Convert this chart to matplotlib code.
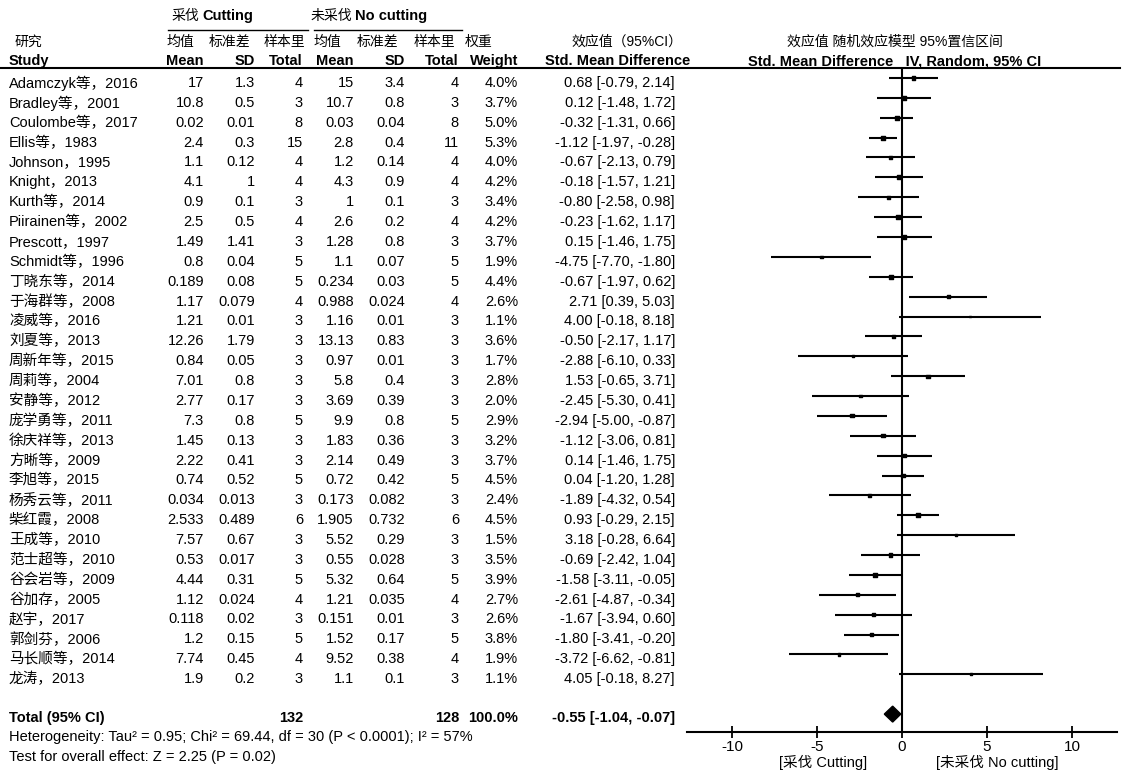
import matplotlib
matplotlib.use('Agg')
import numpy as np
import matplotlib.pyplot as plt

plt.rcParams['font.family'] = ['Liberation Sans', 'Noto Sans CJK SC', 'DejaVu Sans']

# ---- DATA ----
studies = ['Adamczyk等，2016', 'Bradley等，2001', 'Coulombe等，2017', 'Ellis等，1983',
           'Johnson，1995', 'Knight，2013', 'Kurth等，2014', 'Piirainen等，2002',
           'Prescott，1997', 'Schmidt等，1996', '丁晓东等，2014', '于海群等，2008',
           '凌威等，2016', '刘夏等，2013', '周新年等，2015', '周莉等，2004',
           '安静等，2012', '庞学勇等，2011', '徐庆祥等，2013', '方晰等，2009',
           '李旭等，2015', '杨秀云等，2011', '柴红霞，2008', '王成等，2010',
           '范士超等，2010', '谷会岩等，2009', '谷加存，2005', '赵宇，2017',
           '郭剑芬，2006', '马长顺等，2014', '龙涛，2013']
cut_mean = [17, 10.8, 0.02, 2.4, 1.1, 4.1, 0.9, 2.5, 1.49, 0.8, 0.189, 1.17, 1.21, 12.26, 0.84,
            7.01, 2.77, 7.3, 1.45, 2.22, 0.74, 0.034, 2.533, 7.57, 0.53, 4.44, 1.12, 0.118, 1.2, 7.74, 1.9]
cut_sd = [1.3, 0.5, 0.01, 0.3, 0.12, 1, 0.1, 0.5, 1.41, 0.04, 0.08, 0.079, 0.01, 1.79, 0.05,
          0.8, 0.17, 0.8, 0.13, 0.41, 0.52, 0.013, 0.489, 0.67, 0.017, 0.31, 0.024, 0.02, 0.15, 0.45, 0.2]
cut_n = [4, 3, 8, 15, 4, 4, 3, 4, 3, 5, 5, 4, 3, 3, 3, 3, 3, 5, 3, 3, 5, 3, 6, 3, 3, 5, 4, 3, 5, 4, 3]
nc_mean = [15, 10.7, 0.03, 2.8, 1.2, 4.3, 1, 2.6, 1.28, 1.1, 0.234, 0.988, 1.16, 13.13, 0.97,
           5.8, 3.69, 9.9, 1.83, 2.14, 0.72, 0.173, 1.905, 5.52, 0.55, 5.32, 1.21, 0.151, 1.52, 9.52, 1.1]
nc_sd = [3.4, 0.8, 0.04, 0.4, 0.14, 0.9, 0.1, 0.2, 0.8, 0.07, 0.03, 0.024, 0.01, 0.83, 0.01,
         0.4, 0.39, 0.8, 0.36, 0.49, 0.42, 0.082, 0.732, 0.29, 0.028, 0.64, 0.035, 0.01, 0.17, 0.38, 0.1]
nc_n = [4, 3, 8, 11, 4, 4, 3, 4, 3, 5, 5, 4, 3, 3, 3, 3, 3, 5, 3, 3, 5, 3, 6, 3, 3, 5, 4, 3, 5, 4, 3]
weight = [4.0, 3.7, 5.0, 5.3, 4.0, 4.2, 3.4, 4.2, 3.7, 1.9, 4.4, 2.6, 1.1, 3.6, 1.7, 2.8,
          2.0, 2.9, 3.2, 3.7, 4.5, 2.4, 4.5, 1.5, 3.5, 3.9, 2.7, 2.6, 3.8, 1.9, 1.1]
smd = [0.68, 0.12, -0.32, -1.12, -0.67, -0.18, -0.80, -0.23, 0.15, -4.75, -0.67, 2.71, 4.00, -0.50,
       -2.88, 1.53, -2.45, -2.94, -1.12, 0.14, 0.04, -1.89, 0.93, 3.18, -0.69, -1.58, -2.61, -1.67,
       -1.80, -3.72, 4.05]
ci_lo = [-0.79, -1.48, -1.31, -1.97, -2.13, -1.57, -2.58, -1.62, -1.46, -7.70, -1.97, 0.39, -0.18,
         -2.17, -6.10, -0.65, -5.30, -5.00, -3.06, -1.46, -1.20, -4.32, -0.29, -0.28, -2.42, -3.11,
         -4.87, -3.94, -3.41, -6.62, -0.18]
ci_hi = [2.14, 1.72, 0.66, -0.28, 0.79, 1.21, 0.98, 1.17, 1.75, -1.80, 0.62, 5.03, 8.18, 1.17, 0.33,
         3.71, 0.41, -0.87, 0.81, 1.75, 1.28, 0.54, 2.15, 6.64, 1.04, -0.05, -0.34, 0.60, -0.20,
         -0.81, 8.27]
total_smd, total_lo, total_hi = -0.55, -1.04, -0.07
total_weight = 100.0
xticks = [-10, -5, 0, 5, 10]

# ---- LAYOUT (pixels) ----
W, H = 1122, 774
ROW0, ROWH = 78, 19.87
TOTAL_ROW = 32
FS = 10.5

fig = plt.figure(figsize=(W / 100, H / 100), dpi=100)
bg = fig.add_axes([0, 0, 1, 1])
bg.set_xlim(0, W)
bg.set_ylim(H, 0)
bg.axis('off')


def ty(i):
    return ROW0 + ROWH * i + 5


def put(x, y, s, ha='right', bold=False, size=FS):
    bg.text(x, y, s, ha=ha, va='center', fontsize=size,
            fontweight='bold' if bold else 'normal')


# group headers
put(199, 16, '采伐', size=10)
put(202, 16, 'Cutting', ha='left', bold=True)
put(352, 16, '未采伐', size=10)
put(355, 16, 'No cutting', ha='left', bold=True)
bg.plot([168, 308], [30, 30], color='black', lw=1)
bg.plot([314, 462], [30, 30], color='black', lw=1)

# column headers
put(15, 42, '研究', ha='left', size=10)
for x, s in zip([167, 209, 264, 314, 357, 414, 465],
                ['均值', '标准差', '样本里', '均值', '标准差', '样本里', '权重']):
    put(x, 42, s, ha='left', size=10)
put(9, 61, 'Study', ha='left', bold=True)
for x, s in zip([204, 255, 303, 354, 405, 459, 518],
                ['Mean', 'SD', 'Total', 'Mean', 'SD', 'Total', 'Weight']):
    put(x, 61, s, bold=True)
put(627, 42, '效应值（95%CI）', ha='center', size=10)
put(618, 61, 'Std. Mean Difference', ha='center', bold=True)
put(895, 42, '效应值 随机效应模型 95%置信区间', ha='center', size=10)
put(895, 61, 'Std. Mean Difference   IV, Random, 95% CI', ha='center', bold=True)
bg.plot([0, 1120], [68, 68], color='black', lw=1.5)

# study rows
for i, name in enumerate(studies):
    y = ty(i)
    put(9, y, name, ha='left')
    put(204, y, f'{cut_mean[i]:g}')
    put(255, y, f'{cut_sd[i]:g}')
    put(303, y, f'{cut_n[i]}')
    put(354, y, f'{nc_mean[i]:g}')
    put(405, y, f'{nc_sd[i]:g}')
    put(459, y, f'{nc_n[i]}')
    put(518, y, f'{weight[i]:.1f}%')
    put(675, y, f'{smd[i]:.2f} [{ci_lo[i]:.2f}, {ci_hi[i]:.2f}]')

# total row
yt = ty(TOTAL_ROW) - 0.5
put(9, yt, 'Total (95% CI)', ha='left', bold=True)
put(303, yt, f'{sum(cut_n)}', bold=True)
put(459, yt, f'{sum(nc_n)}', bold=True)
put(518, yt, f'{total_weight:.1f}%', bold=True)
put(675, yt, f'{total_smd:.2f} [{total_lo:.2f}, {total_hi:.2f}]', bold=True)
put(9, 737, 'Heterogeneity: Tau² = 0.95; Chi² = 69.44, df = 30 (P < 0.0001); I² = 57%', ha='left')
put(9, 757, 'Test for overall effect: Z = 2.25 (P = 0.02)', ha='left')
put(823, 762, '[采伐 Cutting]', ha='center')
put(997, 762, '[未采伐 No cutting]', ha='center')

# ---- FOREST ----
ax = fig.add_axes([687 / W, 1 - 732 / H, (1117 - 687) / W, (732 - 68) / H])
ax.patch.set_alpha(0)
ax.set_xlim(-12.65, 12.65)
ax.set_ylim(32.9, -0.5)
for s in ['top', 'left', 'right']:
    ax.spines[s].set_visible(False)
ax.spines['bottom'].set_linewidth(1.5)
ax.set_yticks([])
ax.set_xticks(xticks)
ax.set_xticklabels([str(t) for t in xticks])
ax.tick_params(axis='x', direction='inout', length=9, width=1.3, labelsize=11, pad=1)
ax.axvline(0, color='black', lw=1.5)

rows = np.arange(len(studies))
for i in rows:
    ax.plot([ci_lo[i], ci_hi[i]], [i, i], color='black', lw=1.5, solid_capstyle='butt')
ax.scatter(smd, rows, marker='s', s=(1.3 * np.sqrt(weight)) ** 2, color='black', zorder=3)

dh = 0.4
ax.fill([total_lo, total_smd, total_hi, total_smd],
        [TOTAL_ROW, TOTAL_ROW - dh, TOTAL_ROW, TOTAL_ROW + dh], color='black')

fig.savefig('out.png', dpi=100)
